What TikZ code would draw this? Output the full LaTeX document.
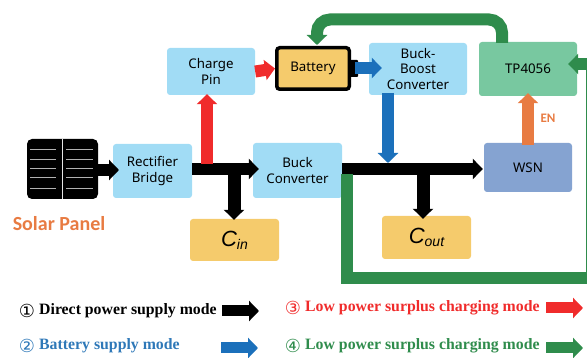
\documentclass[tikz,border=0pt]{standalone}
\usepackage{fontspec}
\setmainfont{Noto Sans}
\newfontfamily\legendfont{Liberation Serif}
\newfontfamily\markfont{DejaVu Sans}
\newfontfamily\labelfont{Carlito}
\newfontfamily\capfont{Liberation Sans}
\usetikzlibrary{arrows.meta}
\definecolor{boxblue}{HTML}{A1DCF5}
\definecolor{boxyellow}{HTML}{F5CB6C}
\definecolor{boxgreen}{HTML}{78C8A0}
\definecolor{boxwsn}{HTML}{85A3D1}
\definecolor{flowred}{HTML}{F02B2B}
\definecolor{flowblue}{HTML}{1B70BB}
\definecolor{flowgreen}{HTML}{2F8C4C}
\definecolor{floworange}{HTML}{E87B42}
\definecolor{textblue}{HTML}{2E78B8}
\tikzset{
  block/.style={rounded corners=3pt,inner sep=0pt,align=center,font=\fontsize{13.3}{15.5}\selectfont},
  capbox/.style={block,fill=boxyellow,minimum width=89,font=\capfont\itshape\fontsize{22}{24}\selectfont},
  flow/.style={line width=12pt,-{Triangle[length=10pt,width=20pt]}},
  legendtext/.style={anchor=west,inner sep=0pt,font=\legendfont\fontsize{15.8}{18}\selectfont\bfseries},
  legendmark/.style={anchor=center,inner sep=0pt,font=\markfont\fontsize{18}{20}\selectfont}
}
\begin{document}
\begin{tikzpicture}[x=1pt,y=-1pt]
  \useasboundingbox (0,0) rectangle (587,358);
  \clip (0,0) rectangle (587,358);
  \node[block,fill=boxblue,minimum width=88,minimum height=47] (chargepin) at (211,71.5) {Charge\\Pin};
  \node[block,fill=boxblue,minimum width=79,minimum height=54] (rectifier) at (152.5,171) {Rectifier\\Bridge};
  \node[block,fill=boxblue,minimum width=89,minimum height=55] (buck) at (297.5,170.5) {Buck\\Converter};
  \node[block,fill=boxblue,minimum width=98,minimum height=52] (buckboost) at (418,69) {Buck-\\Boost\\Converter};
  \node[block,fill=boxgreen,minimum width=98,minimum height=54] (charger) at (528,69) {TP4056};
  \node[block,fill=boxwsn,minimum width=88,minimum height=49] (wsn) at (528,167.5) {WSN};
  \node[capbox,minimum height=42] (cin) at (234.5,240) {C\raisebox{-3pt}{\fontsize{14}{16}\selectfont in}};
  \node[capbox,minimum height=43] (cout) at (426.5,237.5) {C\raisebox{-3pt}{\fontsize{14}{16}\selectfont out}};
  \fill[black,rounded corners=1pt] (349,60) rectangle (358,77);
  \node[block,draw=black,line width=3.5pt,fill=boxyellow,minimum width=72.5,minimum height=41.5] (battery) at (313,68.5) {Battery};
  \node[fill=black,rounded corners=5pt,inner sep=0pt,minimum width=71,minimum height=60] (panel) at (62.5,169) {};
  \draw[white!90!black,line width=0.8pt] (panel.north) -- (panel.south);
  \foreach \y in {150,160,169,178,189} {
    \draw[gray!60,line width=1pt] (30,\y) -- (56,\y);
    \draw[gray!60,line width=1pt] (66,\y) -- (93,\y);
  }
  \node[text=floworange,font=\labelfont\fontsize{20}{22}\selectfont\bfseries,inner sep=0pt] (panellabel) at (59,224) {Solar Panel};
  \node[text=floworange,font=\labelfont\fontsize{13}{15}\selectfont\bfseries,inner sep=0pt] (enlabel) at (548,118) {EN};
  \coordinate (busin) at (234,169);
  \coordinate (redup) at (207,164);
  \coordinate (busout) at (423,169);
  \coordinate (blueend) at (388,163);
  \coordinate (greenstart) at (347,174);
  \coordinate (greenbend) at (347,278);
  \coordinate (greenfar) at (592,278);
  \coordinate (greenback) at (592,64);
  \draw[flow] (panel.east|-0,170) -- (119,170);
  \draw[flow] (rectifier.east|-busin) -- ([xshift=6]buck.west|-busin);
  \draw[flow,line width=13pt] (busin) -- ([yshift=-1]busin|-cin.north);
  \draw[flow] (buck.east|-busin) -- ([xshift=-1]wsn.west|-busin);
  \draw[flow,line width=13pt] (busout) -- ([yshift=-3]busout|-cout.north);
  \draw[flow,flowred] (redup) -- ([yshift=1]redup|-chargepin.south);
  \draw[flow,flowred] (chargepin.east) -- (battery.west);
  \draw[flow,flowblue] (355,68) -- ([xshift=13]buckboost.west|-0,68);
  \draw[flow,flowblue] (388,93) -- (blueend);
  \draw[flow,floworange] ([yshift=-2]wsn.north) -- ([yshift=3]charger.south);
  \draw[flow,flowgreen,rounded corners=0pt] (greenstart) -- (greenbend) -- (greenfar) -- (greenback) -- ([xshift=-9]charger.east|-greenback);
  \draw[flow,flowgreen,rounded corners=13pt] (502,43) -- (502,19.5) -- (317,19.5) -- (317,45);
  \node[legendmark] (markone) at (27,311) {①};
  \node[legendtext] (keyone) at (39,311) {Direct power supply mode};
  \node[legendmark,text=textblue] (marktwo) at (27,346) {②};
  \node[legendtext,text=textblue] (keytwo) at (39,346) {Battery supply mode};
  \node[legendmark,text=flowred] (markthree) at (293,308) {③};
  \node[legendtext,text=flowred] (keythree) at (305,308) {Low power surplus charging mode};
  \node[legendmark,text=flowgreen] (markfour) at (293,346) {④};
  \node[legendtext,text=flowgreen] (keyfour) at (305,346) {Low power surplus charging mode};
  \foreach \name/\col/\x/\y in {one/black/222/311,two/flowblue/221/348,three/flowred/546/308,four/flowgreen/546/348} {
    \coordinate (a\name) at (\x,\y);
    \draw[flow,line width=11pt,\col] (a\name) -- ++(37,0);
  }
\end{tikzpicture}
\end{document}
